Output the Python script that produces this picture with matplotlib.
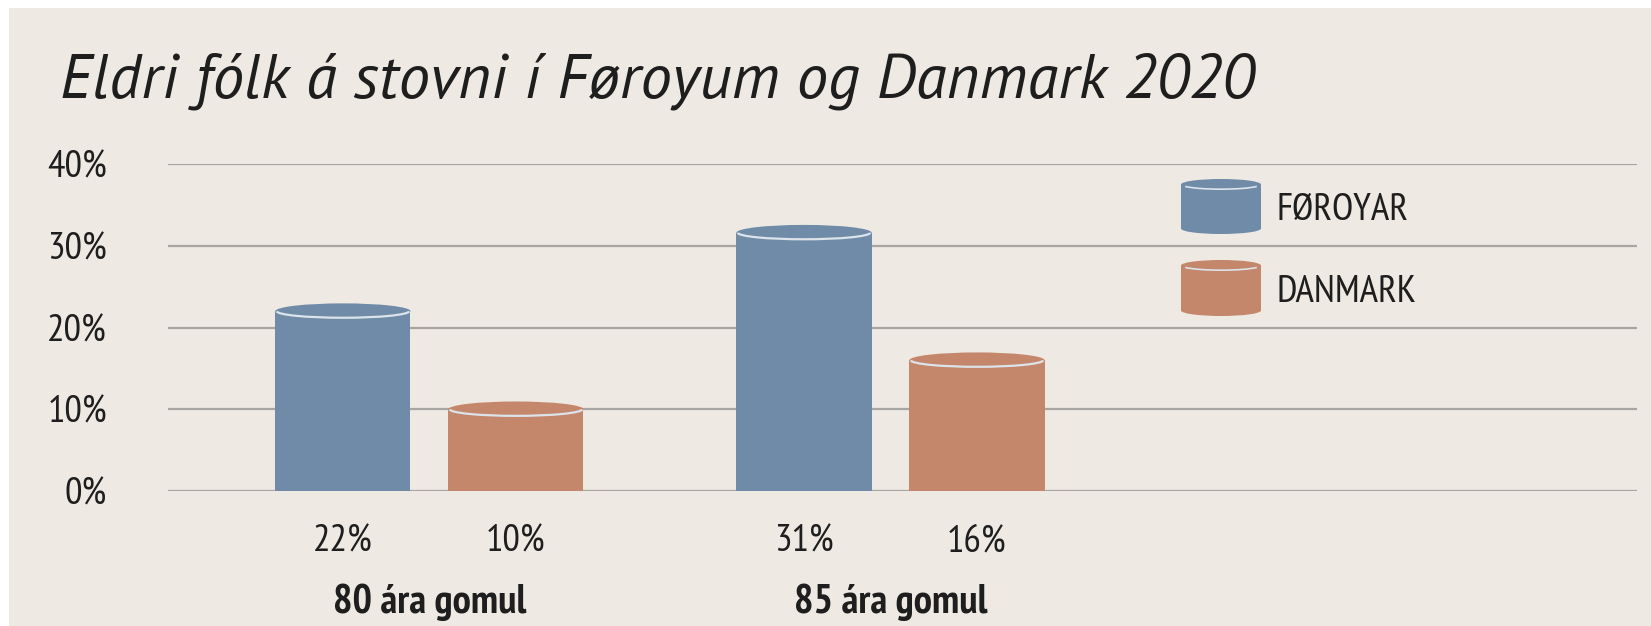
import matplotlib
matplotlib.use("Agg")
import matplotlib.pyplot as plt
from matplotlib import font_manager as fm
from matplotlib.patches import Ellipse, Arc, Rectangle

# ---------------- data ----------------
categories = ["80 ára gomul", "85 ára gomul"]
series_names = ["FØROYAR", "DANMARK"]
foroyar = [22, 31.6]          # bar heights
danmark = [10, 16]
foroyar_labels = ["22%", "31%"]
danmark_labels = ["10%", "16%"]
y_ticks = [0, 10, 20, 30, 40]
y_tick_labels = ["0%", "10%", "20%", "30%", "40%"]
title = "Eldri fólk á stovni í Føroyum og Danmark 2020"

# ---------------- style ----------------
BG = "#EEE9E3"
BLUE = "#6F8BA8"
ORANGE = "#C4876B"
GRID = "#A8A6A3"
TXT = "#1E1E1E"

available = {f.name for f in fm.fontManager.ttflist}
def pick(cands):
    for c in cands:
        if c in available:
            return c
    return "DejaVu Sans"

NARROW = pick(["PT Sans Narrow", "Liberation Sans Narrow", "Fira Sans Condensed", "Roboto Condensed"])
TITLEF = pick(["PT Sans", "Carlito", "Fira Sans", "Open Sans", "Noto Sans"])

W, H = 1651, 626
fig = plt.figure(figsize=(W / 100, H / 100), dpi=100)
fig.patch.set_facecolor("white")
fig.patches.append(Rectangle((9 / W, 0), 1, 1 - 8 / H, transform=fig.transFigure,
                             facecolor=BG, edgecolor="none", zorder=-10))

ax_left, ax_right = 168 / W, 1637 / W
ax_bot, ax_top = 1 - 491 / H, 1 - 164 / H
ax = fig.add_axes([ax_left, ax_bot, ax_right - ax_left, ax_top - ax_bot])
ax.set_facecolor("none")
ax.set_ylim(0, 40)
ax.set_xlim(-0.567, 2.619)
for s in ax.spines.values():
    s.set_visible(False)
ax.set_yticks(y_ticks)
ax.set_yticklabels(y_tick_labels, fontsize=28, family=[NARROW, "DejaVu Sans"], color=TXT)
ax.tick_params(axis="y", length=0, pad=44)
ax.set_xticks([])
for t in y_ticks:
    ax.axhline(t, color=GRID, lw=1.6, zorder=0)

offset = 0.1876
bw = 0.293
ell_h = 1.9
xs = list(range(len(categories)))
for vals, labs, col, sign in [(foroyar, foroyar_labels, BLUE, -1),
                              (danmark, danmark_labels, ORANGE, 1)]:
    pos = [x + sign * offset for x in xs]
    ax.bar(pos, vals, width=bw, color=col, zorder=2, linewidth=0)
    for p, v, lab in zip(pos, vals, labs):
        ax.add_patch(Ellipse((p, 0), bw, ell_h, facecolor=col, edgecolor="none", zorder=2))
        ax.add_patch(Ellipse((p, v), bw, ell_h, facecolor=col, edgecolor="none", zorder=3))
        ax.add_patch(Arc((p, v), bw * 0.98, ell_h * 0.85, theta1=188, theta2=352,
                         color="#DCE3EA", lw=1.6, zorder=4))
        ax.text(p, -6.2, lab, ha="center", va="center", fontsize=28,
                family=[NARROW, "DejaVu Sans"], color=TXT)
for x, c in zip(xs, categories):
    ax.text(x, -13.6, c, ha="center", va="center", fontsize=29.5, fontweight="bold",
            family=[NARROW, "DejaVu Sans"], color=TXT)

# legend (cylinder swatches)
lx0, lx1 = 1181 / W, 1261 / W
for (ytop, ybot, col, name) in [(179, 234, BLUE, series_names[0]), (260, 316, ORANGE, series_names[1])]:
    cx = (lx0 + lx1) / 2
    wfr = lx1 - lx0
    eh = 11 / H
    yt = 1 - (ytop + 5.5) / H
    yb = 1 - (ybot - 5.5) / H
    fig.patches.append(Rectangle((lx0, yb), wfr, yt - yb, transform=fig.transFigure,
                                 facecolor=col, edgecolor="none", zorder=5))
    fig.patches.append(Ellipse((cx, yb), wfr, eh, transform=fig.transFigure,
                               facecolor=col, edgecolor="none", zorder=5))
    fig.patches.append(Ellipse((cx, yt), wfr, eh, transform=fig.transFigure,
                               facecolor=col, edgecolor="none", zorder=6))
    fig.patches.append(Arc((cx, yt), wfr * 0.98, eh * 0.85, theta1=188, theta2=352,
                           transform=fig.transFigure, color="#DCE3EA", lw=1.2, zorder=7))
    fig.text(1276 / W, 1 - ((ytop + ybot) / 2 + 4) / H, name, ha="left", va="center",
             fontsize=28, family=[NARROW, "DejaVu Sans"], color=TXT)

# title, fitted to the reference width
tt = fig.text(60 / W, 1 - 97 / H, title, ha="left", va="baseline", fontsize=40,
              style="italic", family=[TITLEF, "DejaVu Sans"], color=TXT)
fig.canvas.draw()
bb = tt.get_window_extent()
tt.set_fontsize(40 * (1193 / bb.width))

fig.savefig("out.png", dpi=100, facecolor=fig.get_facecolor())
